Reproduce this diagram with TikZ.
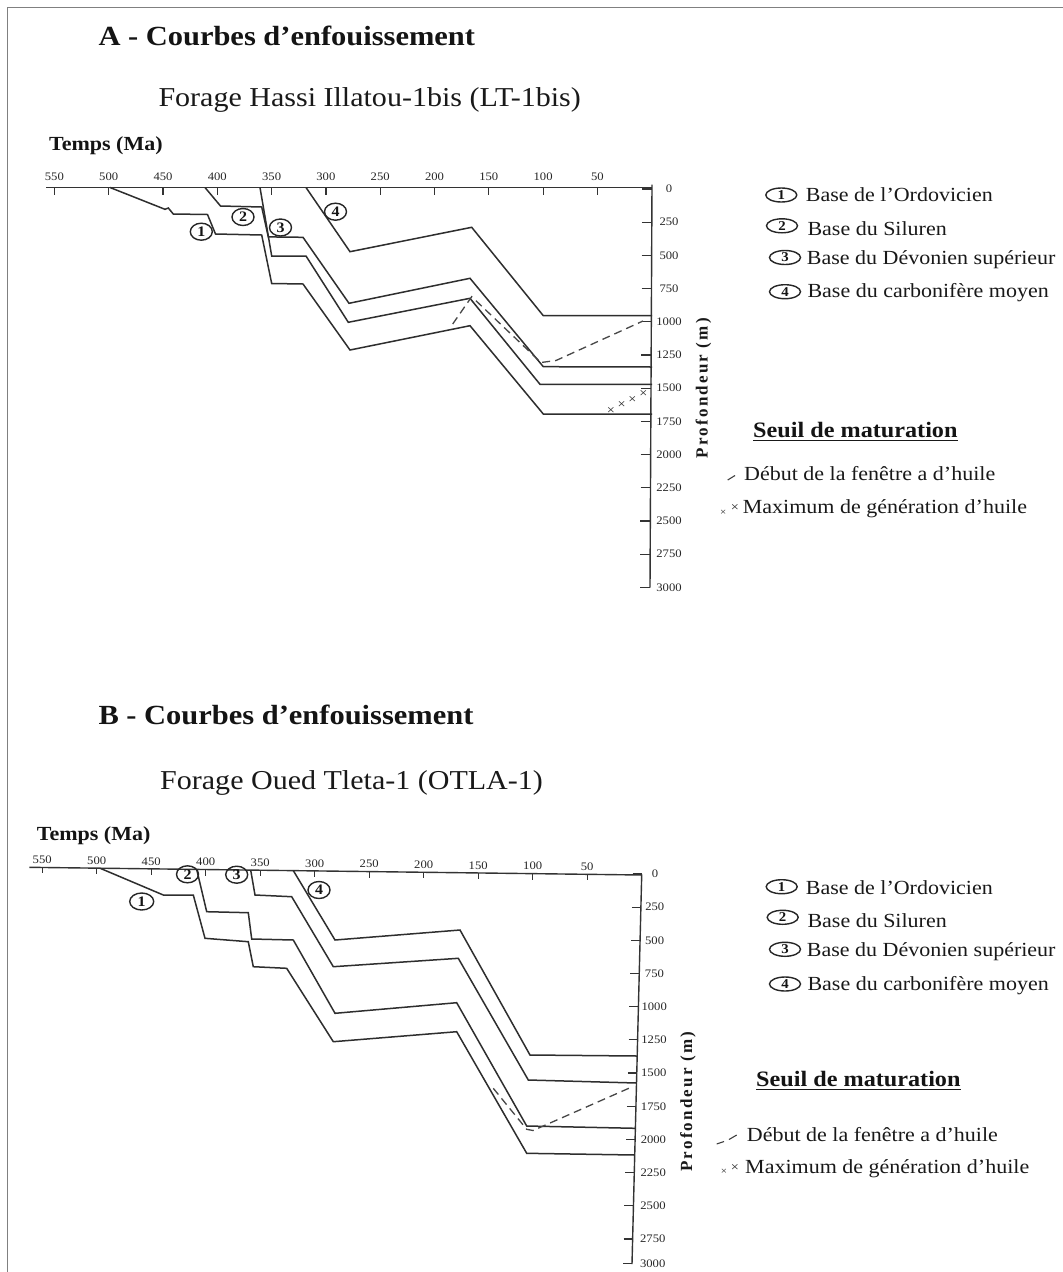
\documentclass[tikz,border=0pt]{standalone}
\usepackage{fontspec}
\setmainfont{Liberation Serif}[FakeStretch=1.1]
\newfontfamily\plainserif{Liberation Serif}
\usetikzlibrary{shapes.geometric}
\begin{document}
\begin{tikzpicture}[x=1pt,y=-1pt,
  framel/.style={draw=black!50,line width=1.3pt},
  curve/.style={draw=black!82,line width=1.5pt,line join=miter},
  axisline/.style={draw=black!80,line width=1.4pt},
  tickl/.style={draw=black!80,line width=1.2pt},
  dashcurve/.style={draw=black!72,line width=1.3pt,dash pattern=on 8pt off 5pt},
  numlab/.style={inner sep=0pt,text=black!85,font=\fontsize{11.5}{12}\selectfont},
  clab/.style={ellipse,draw=black!85,line width=1.4pt,minimum width=22pt,minimum height=17pt,inner sep=0pt,text=black!92,font=\fontsize{14.5}{14.5}\selectfont\bfseries},
  leglab/.style={ellipse,draw=black!85,line width=1.4pt,minimum width=31pt,minimum height=14pt,inner sep=0pt,text=black!92,font=\fontsize{13.5}{13.5}\selectfont\bfseries},
  title/.style={anchor=base west,inner sep=0pt,text=black!92,font=\fontsize{27.7}{32}\selectfont\bfseries},
  forage/.style={anchor=base west,inner sep=0pt,text=black!90,font=\fontsize{27.3}{32}\selectfont},
  temps/.style={anchor=base west,inner sep=0pt,text=black!92,font=\fontsize{20}{24}\selectfont\bfseries},
  legtext/.style={anchor=base west,inner sep=0pt,text=black!90,font=\fontsize{20}{24}\selectfont},
  seuil/.style={anchor=base west,inner sep=0pt,text=black!92,font=\fontsize{22}{26}\selectfont\bfseries},
  prof/.style={anchor=base,inner sep=0pt,rotate=90,text=black!90,font={\plainserif\bfseries\fontsize{17}{17}\selectfont\addfontfeature{LetterSpace=13}}},
  xm/.style={inner sep=0pt,text=black!85,font=\fontsize{13}{13}\selectfont},
  xms/.style={inner sep=0pt,text=black!85,font=\fontsize{10}{10}\selectfont},
  uline/.style={draw=black!90,line width=1.4pt}
]
\useasboundingbox (0,0) rectangle (1063,1272);
\fill[white] (0,0) rectangle (1063,1272);
% frame
\draw[framel] (7.3,1272) -- (7.3,7.3) -- (1063,7.3);

% ================= A =================
\node[title] (titA) at (98.3,45) {A - Courbes d’enfouissement};
\node[forage] (forA) at (158.3,106.7) {Forage Hassi Illatou-1bis (LT-1bis)};
\node[temps] (tempsA) at (49,150) {Temps (Ma)};

\draw[axisline] (46,187.5) -- (652,187.5);
\draw[axisline] (652,184.5) -- (650,587.5);
\foreach \t in {550,500,...,50} {
  \pgfmathsetmacro\xx{651.7-1.086*\t}
  \draw[tickl] (\xx,187.5) -- (\xx,194.5);
  \node[numlab] (tA\t) at (\xx,177) {\t};
}
\foreach \d in {0,250,...,3000} {
  \pgfmathsetmacro\yy{189+0.1328*\d}
  \pgfmathsetmacro\xx{652-(\yy-188)*0.005}
  \pgfmathsetmacro\xa{\xx-10}
  \draw[tickl] (\xa,\yy) -- (\xx,\yy);
  \node[numlab] (dA\d) at (669,\yy) {\d};
}
\node[prof] (profA) at (707.5,388.3) {Profondeur (m)};

% curves A
\draw[curve] (306,187.5) -- (350,251.7) -- (471.7,227.3) -- (543.3,315.7) -- (652,315.7);
\draw[curve] (205,187.5) -- (220.5,206) -- (261.7,207) -- (268.3,236.9) -- (303,237.3) -- (349,303.3) -- (470,278.3) -- (543.3,366.7) -- (652,367);
\draw[curve] (260,187.5) -- (271.7,256) -- (306,256) -- (348.3,322.3) -- (470,298.3) -- (540,384.3) -- (652,384.3);
\draw[curve] (110,187.5) -- (165,209.3) -- (168.3,208) -- (173.3,214) -- (207.5,214.5) -- (215.5,234) -- (261.7,235) -- (271.7,283.5) -- (303,284) -- (350,350) -- (470,325.7) -- (543.3,414) -- (652,414);
\draw[dashcurve] (452.7,324) -- (471.7,296.7) -- (541,362.5) -- (556,360.5) -- (643,321);
\node[xm] (xA1) at (611,410.7) {×};
\node[xm] (xA2) at (621.7,405) {×};
\node[xm] (xA3) at (632.3,400) {×};
\node[xm] (xA4) at (643.3,394.3) {×};

\node[clab] (cA1) at (201.3,231.7) {1};
\node[clab] (cA2) at (243,217) {2};
\node[clab] (cA3) at (280.5,227.5) {3};
\node[clab] (cA4) at (335.5,211.7) {4};

% legend A
\node[leglab] (lA1) at (781.3,195) {1};
\node[leglab] (lA2) at (782,225.8) {2};
\node[leglab] (lA3) at (785,257.5) {3};
\node[leglab] (lA4) at (785,291.7) {4};
\node[legtext] (gA1) at (805.7,201.7) {Base de l’Ordovicien};
\node[legtext] (gA2) at (807.3,235) {Base du Siluren};
\node[legtext] (gA3) at (806.7,264) {Base du Dévonien supérieur};
\node[legtext] (gA4) at (807.3,297.3) {Base du carbonifère moyen};
\node[seuil] (sA) at (753,437.3) {Seuil de maturation};
\draw[uline] ([yshift=-3.4pt]sA.base west) -- ([yshift=-3.4pt]sA.base east);
\coordinate (dA1) at (727.7,480);
\coordinate (dA2) at (735,475.5);
\draw[draw=black!75,line width=1.1pt] (dA1) -- (dA2);
\node[legtext] (debA) at (744,480) {Début de la fenêtre a d’huile};
\node[xms] (mxA1) at (723.3,513) {×};
\node[xm] (mxA2) at (735,508.5) {×};
\node[legtext] (maxA) at (742.7,513.3) {Maximum de génération d’huile};

% ================= B =================
\node[title] (titB) at (98.3,724) {B - Courbes d’enfouissement};
\node[forage] (forB) at (160,789.3) {Forage Oued Tleta-1 (OTLA-1)};
\node[temps] (tempsB) at (36.7,840) {Temps (Ma)};

\coordinate (BL) at (29.3,867.3);
\coordinate (BR) at (641.7,875);
\coordinate (BB) at (632,1264);
\draw[axisline] (BL) -- (BR) -- (BB);
\foreach \t in {550,500,...,50} {
  \pgfmathsetmacro\xx{641.7-1.09*\t}
  \pgfmathsetmacro\yy{867.3+(\xx-29.3)*0.01257}
  \pgfmathsetmacro\yb{\yy+6}
  \pgfmathsetmacro\yl{\yy-7.5}
  \draw[tickl] (\xx,\yy) -- (\xx,\yb);
  \node[numlab] (tB\t) at (\xx,\yl) {\t};
}
\foreach \d in {0,250,...,3000} {
  \pgfmathsetmacro\yy{\d==3000 ? 1263.5 : 874+0.1327*\d}
  \pgfmathsetmacro\xx{641.7-(\yy-875)*0.02494}
  \pgfmathsetmacro\xa{\xx-9}
  \pgfmathsetmacro\xl{655-(\yy-875)*0.006}
  \draw[tickl] (\xa,\yy) -- (\xx,\yy);
  \node[numlab] (dB\d) at (\xl,\yy) {\d};
}
\node[prof] (profB) at (692,1101.7) {Profondeur (m)};

% curves B
\draw[curve] (293.3,870.6) -- (335,940) -- (460,930) -- (530,1055) -- (637.2,1056);
\draw[curve] (250.7,870.1) -- (255,895) -- (291.7,896.7) -- (333.3,966.7) -- (458.3,958.3) -- (528.3,1080) -- (636.5,1083);
\draw[curve] (196.7,869.4) -- (206.7,911.7) -- (248.3,912.7) -- (251.7,939) -- (293.3,940) -- (335,1013.3) -- (456.7,1002.7) -- (526.7,1126) -- (635.4,1128.3);
\draw[curve] (100,868.2) -- (163.3,895) -- (193.3,895) -- (205,938.3) -- (248.3,941.7) -- (253.3,966.7) -- (286.7,968.3) -- (333.3,1041.7) -- (456.7,1031.7) -- (526.7,1153.3) -- (634.7,1155);
\draw[dashcurve] (493.3,1088.3) -- (526.7,1129.3) -- (533,1130.5) -- (633.3,1086.3);

\node[clab,minimum width=24pt] (cB1) at (141.7,901.5) {1};
\node[clab] (cB2) at (187.5,874.3) {2};
\node[clab] (cB3) at (236.7,874.7) {3};
\node[clab] (cB4) at (319,890) {4};

% legend B
\node[leglab] (lB1) at (781.7,886.7) {1};
\node[leglab] (lB2) at (782.7,917.3) {2};
\node[leglab] (lB3) at (785,949.3) {3};
\node[leglab] (lB4) at (785,984) {4};
\node[legtext] (gB1) at (805.7,894) {Base de l’Ordovicien};
\node[legtext] (gB2) at (807.3,927.3) {Base du Siluren};
\node[legtext] (gB3) at (806.7,956.7) {Base du Dévonien supérieur};
\node[legtext] (gB4) at (807.3,990.7) {Base du carbonifère moyen};
\node[seuil] (sB) at (756,1086) {Seuil de maturation};
\draw[uline] ([yshift=-3.4pt]sB.base west) -- ([yshift=-3.4pt]sB.base east);
\coordinate (dB1) at (716.7,1144);
\coordinate (dB2) at (724,1141.5);
\coordinate (dB3) at (729,1139.5);
\coordinate (dB4) at (736.7,1135);
\draw[draw=black!75,line width=1.1pt] (dB1) -- (dB2);
\draw[draw=black!75,line width=1.1pt] (dB3) -- (dB4);
\node[legtext] (debB) at (746.7,1141) {Début de la fenêtre a d’huile};
\node[xms] (mxB1) at (724,1172) {×};
\node[xm] (mxB2) at (735,1167.8) {×};
\node[legtext] (maxB) at (745,1173.3) {Maximum de génération d’huile};
\end{tikzpicture}
\end{document}
